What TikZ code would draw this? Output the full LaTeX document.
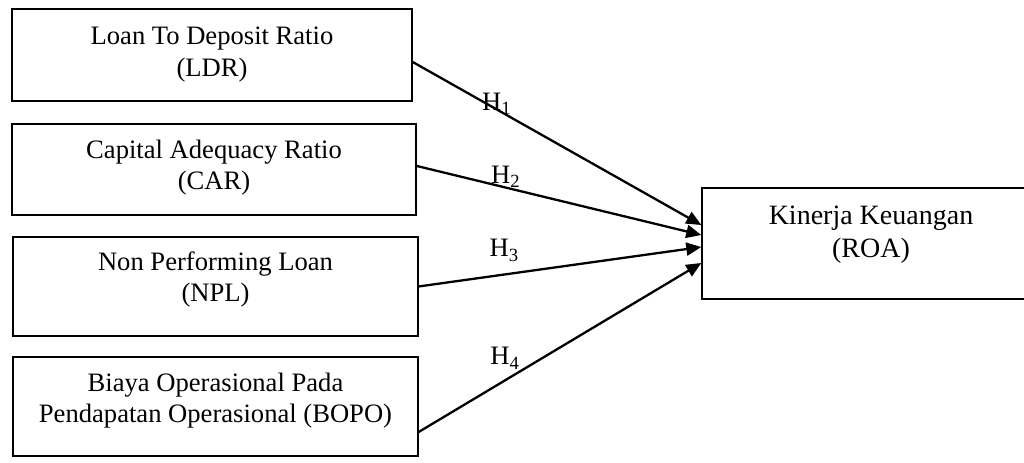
\documentclass[tikz,border=0pt]{standalone}
\usepackage{fontspec}
\setmainfont{Liberation Serif}
\usetikzlibrary{arrows.meta,calc}
\tikzset{
  frame/.style={draw,line width=0.7pt,inner sep=0pt},
  txt/.style={align=center,inner sep=0pt,font=\fontsize{13.3pt}{15.6pt}\selectfont},
  hyp/.style={anchor=base west,inner sep=0pt,font=\fontsize{13.3pt}{15.6pt}\selectfont},
  link/.style={-{Triangle[length=7.5pt,width=6.5pt]},line width=1.15pt},
}

\begin{document}
\begin{tikzpicture}
  \useasboundingbox (0,0) rectangle (17.995,8.136);
  \node[frame,minimum width=200pt,minimum height=46pt] (ldr) at (3.725,7.170) {};
  \node[frame,minimum width=202pt,minimum height=45.5pt] (car) at (3.761,5.158) {};
  \node[frame,minimum width=202.5pt,minimum height=49.5pt] (npl) at (3.787,3.102) {};
  \node[frame,minimum width=202.5pt,minimum height=49.5pt] (bopo) at (3.787,0.993) {};
  \node[frame,minimum width=169pt,minimum height=55.5pt] (roa) at (15.306,3.857) {};
  \node[txt] (ldr-t) at ([yshift=0.25pt]ldr.center) {Loan To Deposit Ratio\\(LDR)};
  \node[txt] (car-t) at ([yshift=1pt]car.center) {Capital Adequacy Ratio\\(CAR)};
  \node[txt] (npl-t) at ([yshift=3.5pt]npl.center) {Non Performing Loan\\(NPL)};
  \node[txt] (bopo-t) at ([yshift=3pt]bopo.center) {Biaya Operasional Pada\\Pendapatan Operasional (BOPO)};
  \node[txt,font=\fontsize{14pt}{16.5pt}\selectfont] (roa-t) at ([yshift=4.5pt]roa.center) {Kinerja Keuangan\\(ROA)};
  \draw[link] ([yshift=-3.5pt]ldr.east) -- ([yshift=9.25pt]roa.west);
  \draw[link] ([yshift=1.75pt]car.east) -- ([yshift=4.25pt]roa.west);
  \draw[link] (npl.east) -- ([yshift=-1.75pt]roa.west);
  \draw[link] ([yshift=-12.75pt]bopo.east) -- ([yshift=-9.75pt]roa.west);
  \node[hyp] (h1) at (8.465,6.203) {H\textsubscript{1}};
  \node[hyp] (h2) at (8.623,4.915) {H\textsubscript{2}};
  \node[hyp] (h3) at (8.598,3.625) {H\textsubscript{3}};
  \node[hyp] (h4) at (8.611,1.722) {H\textsubscript{4}};
\end{tikzpicture}
\end{document}
